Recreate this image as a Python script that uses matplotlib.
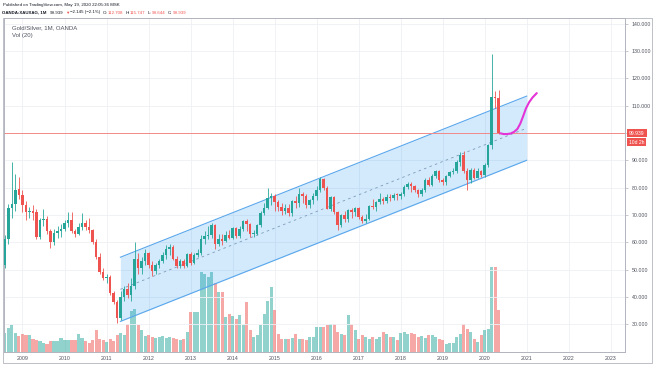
import numpy as np
import pandas as pd
import matplotlib.pyplot as plt

plt.rcParams['font.family'] = ['Liberation Sans', 'DejaVu Sans']

# monthly candles OANDA:XAUXAG, Aug 2008 .. May 2020
dates = pd.date_range('2008-08-01', '2020-05-01', freq='MS')

opens = [51.5, 61.0, 72.4, 74.0, 79.5,
         77.4, 73.6, 71.2, 71.6, 71.0, 62.0, 68.0, 68.5, 64.0, 60.2, 63.5, 64.0,
         65.0, 66.9, 68.0, 64.0, 63.0, 65.5, 67.0, 65.7, 64.5, 60.2, 54.7, 49.2,
         46.8, 47.4, 41.3, 38.2, 32.2, 40.0, 43.0, 40.8, 43.9, 53.8, 50.5, 53.2,
         56.0, 51.8, 49.4, 51.5, 53.3, 55.3, 57.5, 58.3, 54.0, 51.2, 53.2, 51.3,
         55.6, 52.3, 55.2, 56.2, 61.3, 62.4, 62.6, 66.3, 59.4, 61.2, 60.4, 62.8,
         61.6, 65.1, 62.3, 64.8, 67.6, 66.8, 62.9, 63.0, 66.3, 70.8, 72.5, 76.3,
         76.9, 74.6, 73.0, 71.3, 72.6, 70.8, 75.1, 74.5, 77.6, 76.9, 73.7, 75.5,
         76.9, 79.3, 83.1, 80.0, 72.2, 76.4, 71.0, 66.2, 70.0, 68.5, 71.7, 71.1,
         72.4, 69.2, 67.9, 68.6, 73.3, 72.8, 74.8, 76.0, 75.1, 76.6, 76.1, 77.3,
         77.1, 77.7, 80.4, 81.3, 80.7, 79.1, 77.8, 79.0, 82.8, 81.1, 84.3, 86.0,
         82.6, 82.1, 84.2, 85.6, 86.1, 89.4, 92.1, 86.2, 82.6, 86.6, 83.6, 86.1,
         84.7, 88.3, 95.5, 113.3, 112.708]
highs = [62.5, 74.0, 89.5, 85.0, 84.0,
         79.0, 75.0, 73.0, 73.5, 72.0, 69.0, 72.0, 69.5, 65.0, 65.0, 66.0, 66.5,
         68.0, 71.2, 71.0, 65.0, 67.0, 70.7, 68.0, 69.0, 65.0, 61.0, 56.0, 50.5,
         48.5, 48.0, 42.0, 39.0, 42.0, 44.0, 45.0, 47.0, 60.0, 56.0, 54.5, 57.5,
         56.5, 53.0, 52.5, 54.0, 56.5, 59.0, 59.5, 59.0, 55.0, 54.0, 54.0, 56.0,
         56.5, 56.0, 57.5, 62.5, 64.0, 66.0, 67.0, 66.8, 63.0, 63.0, 64.0, 64.5,
         65.5, 65.5, 66.0, 68.0, 68.5, 67.0, 64.5, 66.5, 71.5, 74.5, 80.0, 78.0,
         77.5, 75.5, 74.5, 74.0, 74.0, 75.5, 77.0, 80.0, 78.5, 77.5, 76.0, 78.0,
         80.5, 84.0, 83.5, 80.5, 77.0, 77.0, 71.5, 70.5, 71.5, 72.0, 72.5, 73.0,
         73.0, 70.0, 70.5, 73.5, 76.0, 75.0, 78.0, 76.5, 77.5, 77.5, 78.0, 78.0,
         78.5, 81.0, 82.0, 82.0, 81.0, 79.5, 80.0, 83.5, 84.0, 85.0, 86.5, 86.5,
         83.5, 84.5, 86.0, 87.0, 90.0, 93.0, 93.5, 87.0, 87.0, 87.0, 87.0, 86.5,
         89.0, 96.0, 129.0, 115.5, 115.747]
lows = [50.5, 59.5, 69.0, 71.5, 76.0,
        71.0, 68.0, 69.0, 68.0, 61.0, 61.0, 66.0, 63.0, 58.0, 59.0, 61.5, 62.0,
        64.0, 65.5, 63.5, 62.0, 62.5, 64.5, 64.5, 63.5, 59.5, 54.0, 48.5, 46.0,
        45.0, 40.5, 37.5, 30.5, 31.5, 38.5, 39.5, 38.5, 43.0, 48.5, 48.5, 51.5,
        50.5, 47.5, 48.5, 50.5, 52.5, 54.0, 55.5, 53.5, 50.5, 50.5, 50.5, 51.0,
        51.5, 52.0, 54.5, 55.5, 59.5, 61.0, 61.5, 57.5, 58.5, 59.0, 60.0, 61.0,
        61.0, 61.5, 61.5, 64.0, 64.0, 62.0, 62.0, 62.5, 65.5, 70.0, 72.0, 73.5,
        71.5, 71.5, 70.0, 70.5, 69.5, 69.5, 72.5, 73.0, 74.5, 72.5, 72.5, 74.0,
        75.5, 78.5, 79.0, 72.0, 71.5, 70.5, 64.5, 65.5, 67.5, 67.5, 69.0, 69.5,
        68.5, 67.0, 67.0, 68.0, 72.0, 71.5, 74.0, 74.0, 74.5, 75.0, 75.5, 75.5,
        76.0, 77.0, 79.5, 78.5, 78.5, 76.5, 77.0, 78.5, 80.5, 80.5, 83.5, 82.0,
        81.0, 81.0, 84.0, 85.0, 85.5, 88.0, 85.5, 79.0, 81.5, 83.0, 83.5, 84.0,
        84.0, 87.5, 94.0, 109.0, 99.644]
closes = [61.0, 72.4, 74.0, 79.0, 77.4,
          73.6, 71.2, 71.6, 70.8, 62.0, 68.0, 68.5, 64.0, 60.2, 63.5, 64.0, 65.0,
          66.9, 68.2, 64.0, 63.0, 65.5, 67.0, 65.5, 64.5, 60.2, 54.7, 49.2, 46.8,
          47.4, 41.3, 38.2, 32.2, 40.0, 43.0, 40.8, 43.9, 53.8, 50.5, 53.2, 56.0,
          51.8, 49.4, 51.5, 53.3, 55.3, 57.5, 58.3, 54.0, 51.2, 53.2, 51.3, 55.6,
          52.3, 55.2, 56.2, 61.3, 62.4, 62.6, 66.3, 59.4, 61.2, 60.4, 62.8, 61.6,
          65.1, 62.3, 64.8, 67.6, 66.8, 62.9, 63.0, 66.3, 70.8, 72.5, 76.3, 76.9,
          74.6, 73.0, 71.3, 72.6, 70.8, 75.1, 74.5, 77.6, 76.9, 73.7, 75.5, 76.9,
          79.3, 83.1, 80.0, 72.2, 76.4, 71.0, 66.2, 70.0, 68.5, 71.7, 71.1, 72.4,
          69.2, 67.9, 68.6, 73.3, 72.8, 74.8, 76.0, 75.1, 76.6, 76.1, 77.3, 77.1,
          77.7, 80.4, 81.3, 80.7, 79.1, 77.8, 79.0, 82.8, 81.1, 84.3, 86.0, 82.6,
          82.1, 84.2, 85.6, 86.1, 89.4, 92.1, 86.2, 82.6, 86.6, 83.6, 86.1, 84.7,
          88.3, 95.5, 113.3, 112.708, 99.939]
volumes = [19, 24, 27, 19, 16,
           18, 17, 17, 13, 12, 11, 9, 8, 11, 11, 11, 14,
           12, 12, 12, 12, 18, 14, 11, 9, 12, 22, 13, 12,
           10, 13, 11, 17, 19, 17, 28, 41, 43, 27, 22, 16,
           17, 15, 14, 15, 16, 14, 15, 14, 13, 12, 13, 20,
           40, 40, 40, 80, 78, 75, 80, 69, 60, 60, 35, 38,
           36, 33, 37, 27, 50, 22, 15, 17, 27, 38, 51, 65,
           42, 18, 13, 13, 13, 14, 18, 13, 13, 12, 15, 15,
           25, 25, 25, 27, 28, 28, 20, 18, 17, 37, 28, 22,
           13, 17, 15, 13, 15, 13, 15, 20, 18, 15, 15, 12,
           19, 20, 18, 19, 18, 15, 16, 14, 17, 17, 15, 13,
           12, 8, 9, 9, 15, 18, 28, 23, 20, 13, 10, 17,
           22, 23, 85, 85, 42]

# parallel channel (start / end)
chan_t = [2011.33, 2021.0]
chan_upper = [54.5, 113.5]
chan_lower = [31.0, 90.0]

# hand drawn projection (brush)
brush_t = [2020.37, 2020.45, 2020.53, 2020.62, 2020.70, 2020.78, 2020.85,
           2020.92, 2020.98, 2021.06, 2021.14, 2021.24]
brush_p = [99.9, 99.6, 99.6, 99.8, 100.4, 101.5, 103.5, 106.3, 108.9, 111.3,
           113.0, 114.6]

last_price = 99.939
years = list(range(2009, 2024))
price_ticks = list(range(30, 150, 10))

UP, DOWN = '#26a69a', '#ef5350'
TXT = '#50535e'
DARK = '#131722'
BORDER = '#b2b5be'
GRID = '#eef0f5'

W, H = 654, 366
fig = plt.figure(figsize=(W / 100, H / 100), dpi=100)

def rect(x0, y0, x1, y1):
    return [x0 / W, 1 - y1 / H, (x1 - x0) / W, (y1 - y0) / H]

r = rect(4, 18, 625, 352)
ax_vol = fig.add_axes(r)
ax = fig.add_axes(r, sharex=ax_vol)
ax_vol.set_zorder(0)
ax.set_zorder(1)
ax.patch.set_visible(False)

t = np.array([d.year + (d.month - 1) / 12 for d in dates])
o, hi, lo, c = map(np.array, (opens, highs, lows, closes))
up = c >= o
cols = np.where(up, UP, DOWN)

# volume
ax_vol.bar(t, volumes, width=0.072, color=cols, alpha=0.5, linewidth=0, zorder=2)
ax_vol.set_ylim(0, 334)
for yr in years:
    ax_vol.axvline(yr, color=GRID, lw=0.6, zorder=0)
ax_vol.set_yticks([])
ax_vol.tick_params(axis='x', length=0)

# grid on price scale
for p in price_ticks:
    ax.axhline(p, color=GRID, lw=0.6, zorder=0)

# channel
ax.fill_between(chan_t, chan_lower, chan_upper, color='#2196f3', alpha=0.2,
                linewidth=0, zorder=1)
ax.plot(chan_t, chan_upper, color='#5aa7ec', lw=0.8, zorder=2)
ax.plot(chan_t, chan_lower, color='#5aa7ec', lw=0.8, zorder=2)
ax.plot(chan_t, [(a + b) / 2 for a, b in zip(chan_upper, chan_lower)],
        color='#7f9bb5', lw=0.6, ls=(0, (3, 4)), zorder=2)

# last price line
ax.axhline(last_price, color='#f28b89', lw=0.7, zorder=2)

# candles
ax.vlines(t, lo, hi, colors=cols, lw=0.6, zorder=3)
body = np.where(np.abs(c - o) < 0.3, 0.3, c - o)
ax.bar(t, body, bottom=o, width=0.062, color=cols, linewidth=0, zorder=4)

# brush
ax.plot(brush_t, brush_p, color='#e433d6', lw=1.5, solid_capstyle='round', zorder=5)

ax.set_xlim(2008.56, 2023.34)
ax.set_ylim(19.8, 142.1)

# the 100.000 label sits under the last-price box, so it is left blank
ax.yaxis.tick_right()
ax.set_yticks(price_ticks)
ax.set_yticklabels(['' if p == 100 else f'{p:.3f}' for p in price_ticks])
ax.tick_params(axis='y', length=2, width=0.5, color=BORDER, labelsize=3.8,
               labelcolor=TXT, pad=3)
ax.set_xticks(years)
ax.set_xticklabels([str(y) for y in years])
ax.tick_params(axis='x', length=0, labelsize=3.8, labelcolor=TXT, pad=3)
ax_vol.tick_params(axis='x', labelbottom=False)

for a in (ax, ax_vol):
    for s in a.spines.values():
        s.set_color(BORDER)
        s.set_linewidth(0.6)

# price label boxes on the right scale
ax.annotate(f'{last_price:.3f}', xy=(1.0, last_price), xycoords=('axes fraction', 'data'),
            xytext=(3, 0), textcoords='offset points', ha='left', va='center',
            fontsize=3.6, color='white',
            bbox=dict(boxstyle='square,pad=0.35', fc=DOWN, ec='none'), zorder=10)
ax.annotate('10d 2h', xy=(1.0, last_price), xycoords=('axes fraction', 'data'),
            xytext=(3, -6.5), textcoords='offset points', ha='left', va='center',
            fontsize=3.6, color='white',
            bbox=dict(boxstyle='square,pad=0.35', fc=DOWN, ec='none'), zorder=10)

# legends inside pane
ax.text(8 / 621, 1 - 10 / 334, 'Gold/Silver, 1M, OANDA', transform=ax.transAxes,
        fontsize=4.3, color=TXT, ha='left', va='center')
ax.text(8 / 621, 1 - 17 / 334, 'Vol (20)', transform=ax.transAxes,
        fontsize=4.3, color=TXT, ha='left', va='center')

# header
fig.text(3 / W, 1 - 5 / H, 'Published on TradingView.com, May 19, 2020 22:05:36 MSK',
         fontsize=3.2, color=DARK, ha='left', va='center')
parts = [('OANDA:XAUXAG, 1M', DARK, 'bold', 3),
         ('99.939', DARK, 'normal', 2),
         ('\u25bc', DOWN, 'normal', 1),
         ('\u22122.145 (\u22122.1%)', DARK, 'normal', 2),
         ('O:', DARK, 'normal', 0.5),
         ('112.708', DOWN, 'normal', 2),
         ('H:', DARK, 'normal', 0.5),
         ('115.747', DOWN, 'normal', 2),
         ('L:', DARK, 'normal', 0.5),
         ('99.644', DOWN, 'normal', 2),
         ('C:', DARK, 'normal', 0.5),
         ('99.939', DOWN, 'normal', 0)]
renderer = fig.canvas.get_renderer()
xp = 2.0
for s, col, wt, gap in parts:
    txt = fig.text(xp / W, 1 - 12.5 / H, s, fontsize=3.2, color=col, weight=wt,
                   ha='left', va='center', family=['Liberation Sans', 'DejaVu Sans'])
    xp += txt.get_window_extent(renderer).width + gap

# outer frame of the chart
fig.add_artist(plt.Rectangle((3 / W, 1 - 363 / H), 649 / W, 345 / H, fill=False,
                             ec=BORDER, lw=0.6, transform=fig.transFigure))

fig.savefig('out.png', dpi=100)
